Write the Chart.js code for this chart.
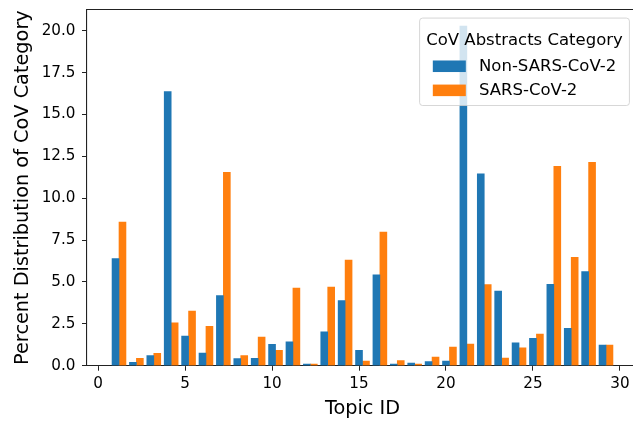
<!DOCTYPE html>
<html>
<head>
<meta charset="utf-8">
<script src="https://cdn.jsdelivr.net/npm/chart.js@4/dist/chart.umd.min.js"></script>
<style>
  html, body { margin: 0; padding: 0; background: #fff; overflow: hidden; }
  canvas { display: block; }
</style>
</head>
<body>
<canvas id="chart" width="641" height="421"></canvas>
<script>
// values
const topicIds = [1, 2, 3, 4, 5, 6, 7, 8, 9, 10, 11, 12, 13, 14, 15, 16, 17, 18, 19, 20, 21, 22, 23, 24, 25, 26, 27, 28, 29];
const nonSarsCov2 = [6.39, 0.20, 0.60, 16.37, 1.77, 0.76, 4.19, 0.42, 0.44, 1.27, 1.43, 0.10, 2.02, 3.89, 0.92, 5.42, 0.10, 0.16, 0.24, 0.28, 20.28, 11.45, 4.46, 1.37, 1.63, 4.86, 2.23, 5.62, 1.23];
const sarsCov2 = [8.57, 0.44, 0.74, 2.56, 3.26, 2.35, 11.55, 0.60, 1.71, 0.92, 4.64, 0.10, 4.70, 6.31, 0.28, 7.98, 0.30, 0.10, 0.52, 1.11, 1.29, 4.84, 0.46, 1.07, 1.89, 11.90, 6.47, 12.14, 1.23];
const seriesLabels = ['Non-SARS-CoV-2', 'SARS-CoV-2'];
const legendTitle = 'CoV Abstracts Category';
const xTickValues = [0, 5, 10, 15, 20, 25, 30];
const yTickValues = [0, 2.5, 5, 7.5, 10, 12.5, 15, 17.5, 20];

const barWidth = 0.4;
const FONT = 'DejaVu Sans';
const BLUE = '#1f77b4';
const ORANGE = '#ff7f0e';

// box round the plot (matplotlib spines)
const frame = {
  id: 'frame',
  afterDatasetsDraw(chart) {
    const { ctx, chartArea: a } = chart;
    ctx.save();
    ctx.strokeStyle = '#222';
    ctx.lineWidth = 1.1;
    ctx.beginPath();
    ctx.moveTo(a.left, a.top);
    ctx.lineTo(a.right, a.top);
    ctx.lineTo(a.right, a.bottom);
    ctx.stroke();
    ctx.restore();
  }
};

// legend inside the axes, upper right, semi-transparent like matplotlib
const innerLegend = {
  id: 'innerLegend',
  afterDraw(chart) {
    const { ctx, chartArea: a } = chart;
    const F = 16.5;
    ctx.save();
    ctx.font = F + 'px "' + FONT + '"';
    const titleW = ctx.measureText(legendTitle).width;
    const textW = Math.max(...seriesLabels.map(s => ctx.measureText(s).width));
    const rowW = 2 * F + 0.8 * F + textW;
    const innerW = Math.max(titleW, rowW);
    const w = innerW + 0.8 * F;
    const h = 5.3 * F;
    const right = a.right - 0.52 * F;
    const left = right - w;
    const top = a.top + 0.52 * F;

    ctx.beginPath();
    ctx.roundRect(left, top, w, h, 3);
    ctx.fillStyle = 'rgba(255,255,255,0.8)';
    ctx.fill();
    ctx.strokeStyle = 'rgba(204,204,204,0.8)';
    ctx.lineWidth = 1;
    ctx.stroke();

    ctx.fillStyle = '#000';
    ctx.textBaseline = 'middle';
    ctx.textAlign = 'center';
    ctx.fillText(legendTitle, left + w / 2, top + 1.38 * F);

    const rowLeft = left + w / 2 - rowW / 2;
    ctx.textAlign = 'left';
    chart.data.datasets.forEach((ds, i) => {
      const cy = top + (2.92 + i * 1.46) * F;
      ctx.fillStyle = ds.backgroundColor;
      ctx.fillRect(rowLeft, cy - 0.35 * F, 2 * F, 0.7 * F);
      ctx.fillStyle = '#000';
      ctx.fillText(ds.label, rowLeft + 2.8 * F, cy);
    });
    ctx.restore();
  }
};

new Chart(document.getElementById('chart'), {
  type: 'bar',
  data: {
    datasets: [{
      label: seriesLabels[0],
      data: topicIds.map((t, i) => ({ x: t, y: nonSarsCov2[i] })),
      backgroundColor: BLUE
    }, {
      label: seriesLabels[1],
      data: topicIds.map((t, i) => ({ x: t + barWidth, y: sarsCov2[i] })),
      backgroundColor: ORANGE
    }]
  },
  options: {
    responsive: false,
    animation: false,
    devicePixelRatio: 1,
    grouped: false,
    categoryPercentage: 1,
    barPercentage: 1,
    layout: { padding: { top: 9.5, right: 3, bottom: 0, left: 0 } },
    plugins: {
      legend: { display: false },
      tooltip: { enabled: false }
    },
    scales: {
      x: {
        type: 'linear',
        offset: false,
        min: -0.64,
        max: 31.04,
        afterFit: s => {
          s.height = 55.3;
          s.paddingLeft = 0;
          s.paddingRight = 0;
        },
        afterBuildTicks: s => { s.ticks = xTickValues.map(v => ({ value: v })); },
        ticks: {
          includeBounds: false,
          color: '#000',
          padding: 4.5,
          maxRotation: 0,
          font: { family: FONT, size: 15.2 },
          callback: v => String(v)
        },
        grid: { offset: false, drawOnChartArea: false, drawTicks: true, tickLength: 5, color: '#222' },
        border: { color: '#222', width: 1.1 },
        title: {
          display: true,
          text: 'Topic ID',
          color: '#000',
          font: { family: FONT, size: 19.3 },
          padding: { top: 0, bottom: 0 }
        }
      },
      y: {
        min: 0,
        max: 21.27,
        afterFit: s => {
          s.width = 87;
          s.paddingTop = 0;
          s.paddingBottom = 0;
        },
        afterBuildTicks: s => { s.ticks = yTickValues.map(v => ({ value: v })); },
        ticks: {
          includeBounds: false,
          color: '#000',
          padding: 6.5,
          font: { family: FONT, size: 15.2 },
          callback: v => Number(v).toFixed(1)
        },
        grid: { drawOnChartArea: false, drawTicks: true, tickLength: 5, color: '#222' },
        border: { color: '#222', width: 1.1 },
        title: {
          display: true,
          text: 'Percent Distribution of CoV Category',
          color: '#000',
          font: { family: FONT, size: 19.3 },
          padding: { top: 11, bottom: 0 }
        }
      }
    }
  },
  plugins: [frame, innerLegend]
});
</script>
</body>
</html>
